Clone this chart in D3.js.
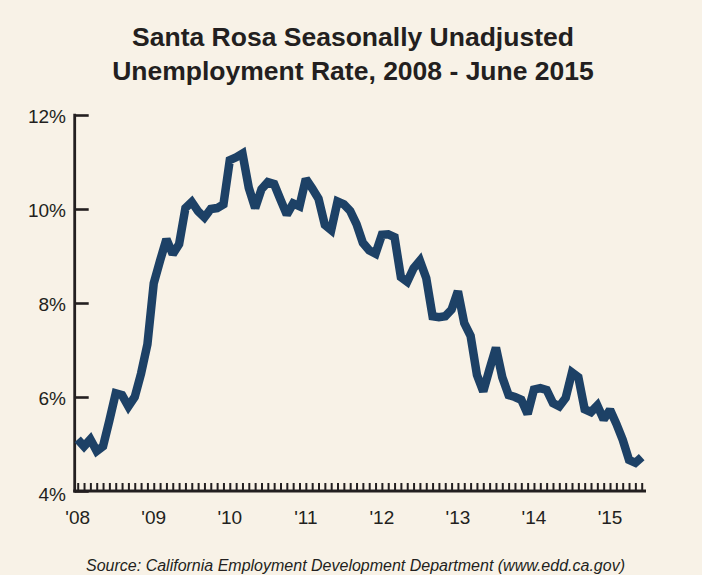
<!DOCTYPE html>
<html>
<head>
<meta charset="utf-8">
<script src="https://cdn.jsdelivr.net/npm/d3@7"></script>
<style>
  html, body { margin: 0; padding: 0; background: #f8f2e7; }
  svg { display: block; }
</style>
</head>
<body>
<svg id="chart" width="702" height="575"></svg>
<script>
// Monthly unemployment rate (%), not seasonally adjusted, Jan 2008 – Jun 2015
const rate2008 = [5.1, 4.95, 5.1, 4.85, 4.95, 5.5, 6.08, 6.04, 5.8, 6.0, 6.5, 7.12];
const rate2009 = [8.42, 8.9, 9.36, 9.04, 9.25, 10.02, 10.15, 9.95, 9.82, 10.0, 10.02, 10.1];
const rate2010 = [11.04, 11.1, 11.18, 10.45, 10.02, 10.42, 10.57, 10.53, 10.2, 9.88, 10.12, 10.06];
const rate2011 = [10.64, 10.44, 10.22, 9.66, 9.55, 10.16, 10.1, 9.96, 9.68, 9.28, 9.12, 9.05];
const rate2012 = [9.45, 9.46, 9.4, 8.55, 8.45, 8.74, 8.9, 8.53, 7.72, 7.7, 7.72, 7.86];
const rate2013 = [8.25, 7.57, 7.3, 6.47, 6.12, 6.6, 7.05, 6.42, 6.04, 6.0, 5.94, 5.64];
const rate2014 = [6.16, 6.19, 6.15, 5.87, 5.8, 5.98, 6.52, 6.42, 5.74, 5.68, 5.82, 5.52];
const rate2015 = [5.73, 5.43, 5.09, 4.66, 4.6, 4.72];

const rates = [].concat(rate2008, rate2009, rate2010, rate2011, rate2012, rate2013, rate2014, rate2015);

const yearLabels = ["'08", "'09", "'10", "'11", "'12", "'13", "'14", "'15"];
const yTicks = [4, 6, 8, 10, 12];
const titleLines = ["Santa Rosa Seasonally Unadjusted", "Unemployment Rate, 2008 - June 2015"];
const sourceNote = "Source: California Employment Development Department (www.edd.ca.gov)";

const ink = "#231f20";
const lineColor = "#1d4166";

const svg = d3.select("#chart");
svg.append("rect").attr("width", 702).attr("height", 575).attr("fill", "#f8f2e7");

// month index → horizontal position
const x = d3.scaleLinear().domain([0, rates.length - 1]).range([77.7, 641.7]);
const y = d3.scaleLinear().domain([4, 12]).range([491, 115]);

const axisLeft = 74.7;
const axisRight = 646;

// Title
svg.append("g")
  .selectAll("text")
  .data(titleLines)
  .join("text")
  .attr("x", 353)
  .attr("y", (d, i) => 46 + i * 34)
  .attr("text-anchor", "middle")
  .attr("font-family", "Liberation Sans, Arial, sans-serif")
  .attr("font-weight", "bold")
  .attr("font-size", 26.5)
  .attr("fill", ink)
  .text(d => d);

// Y axis with inward ticks
const yAxis = d3.axisRight(y)
  .tickValues(yTicks)
  .tickSize(14)
  .tickFormat("");
const gy = svg.append("g")
  .attr("transform", `translate(${axisLeft},0)`)
  .call(yAxis);
gy.select(".domain").remove();
gy.selectAll(".tick line").attr("stroke", ink).attr("stroke-width", 2.6);
svg.append("line")
  .attr("x1", axisLeft).attr("x2", axisLeft)
  .attr("y1", y(12) - 1.3).attr("y2", y(4) + 1.5)
  .attr("stroke", ink).attr("stroke-width", 2.8);

// Y labels
svg.append("g")
  .selectAll("text")
  .data(yTicks)
  .join("text")
  .attr("x", 66)
  .attr("y", d => y(d) + (d === 4 ? 10 : 8))
  .attr("text-anchor", "end")
  .attr("font-family", "Liberation Sans, Arial, sans-serif")
  .attr("font-size", 19)
  .attr("fill", ink)
  .text(d => d + "%");

// X axis: monthly minor ticks pointing up
const xAxis = d3.axisTop(x)
  .tickValues(d3.range(rates.length))
  .tickSize(8)
  .tickFormat("");
const gx = svg.append("g")
  .attr("transform", `translate(0,${y(4)})`)
  .call(xAxis);
gx.select(".domain").remove();
gx.selectAll(".tick line").attr("stroke", ink).attr("stroke-width", 2);
svg.append("line")
  .attr("x1", axisLeft - 1.4).attr("x2", axisRight)
  .attr("y1", y(4)).attr("y2", y(4))
  .attr("stroke", ink).attr("stroke-width", 3);

// Year labels at each January
svg.append("g")
  .selectAll("text")
  .data(yearLabels)
  .join("text")
  .attr("x", (d, i) => x(i * 12))
  .attr("y", 524)
  .attr("text-anchor", "middle")
  .attr("font-family", "Liberation Sans, Arial, sans-serif")
  .attr("font-size", 19)
  .attr("fill", ink)
  .text(d => d);

// Rate line
const line = d3.line()
  .x((d, i) => x(i))
  .y(d => y(d));
svg.append("path")
  .datum(rates)
  .attr("d", line)
  .attr("fill", "none")
  .attr("stroke", lineColor)
  .attr("stroke-width", 8.5)
  .attr("stroke-linejoin", "miter")
  .attr("stroke-miterlimit", 2)
  .attr("stroke-linecap", "butt");

// Source note
svg.append("text")
  .attr("x", 355.5)
  .attr("y", 571)
  .attr("text-anchor", "middle")
  .attr("font-family", "Liberation Sans, Arial, sans-serif")
  .attr("font-style", "italic")
  .attr("font-size", 16)
  .attr("fill", ink)
  .text(sourceNote);
</script>
</body>
</html>
